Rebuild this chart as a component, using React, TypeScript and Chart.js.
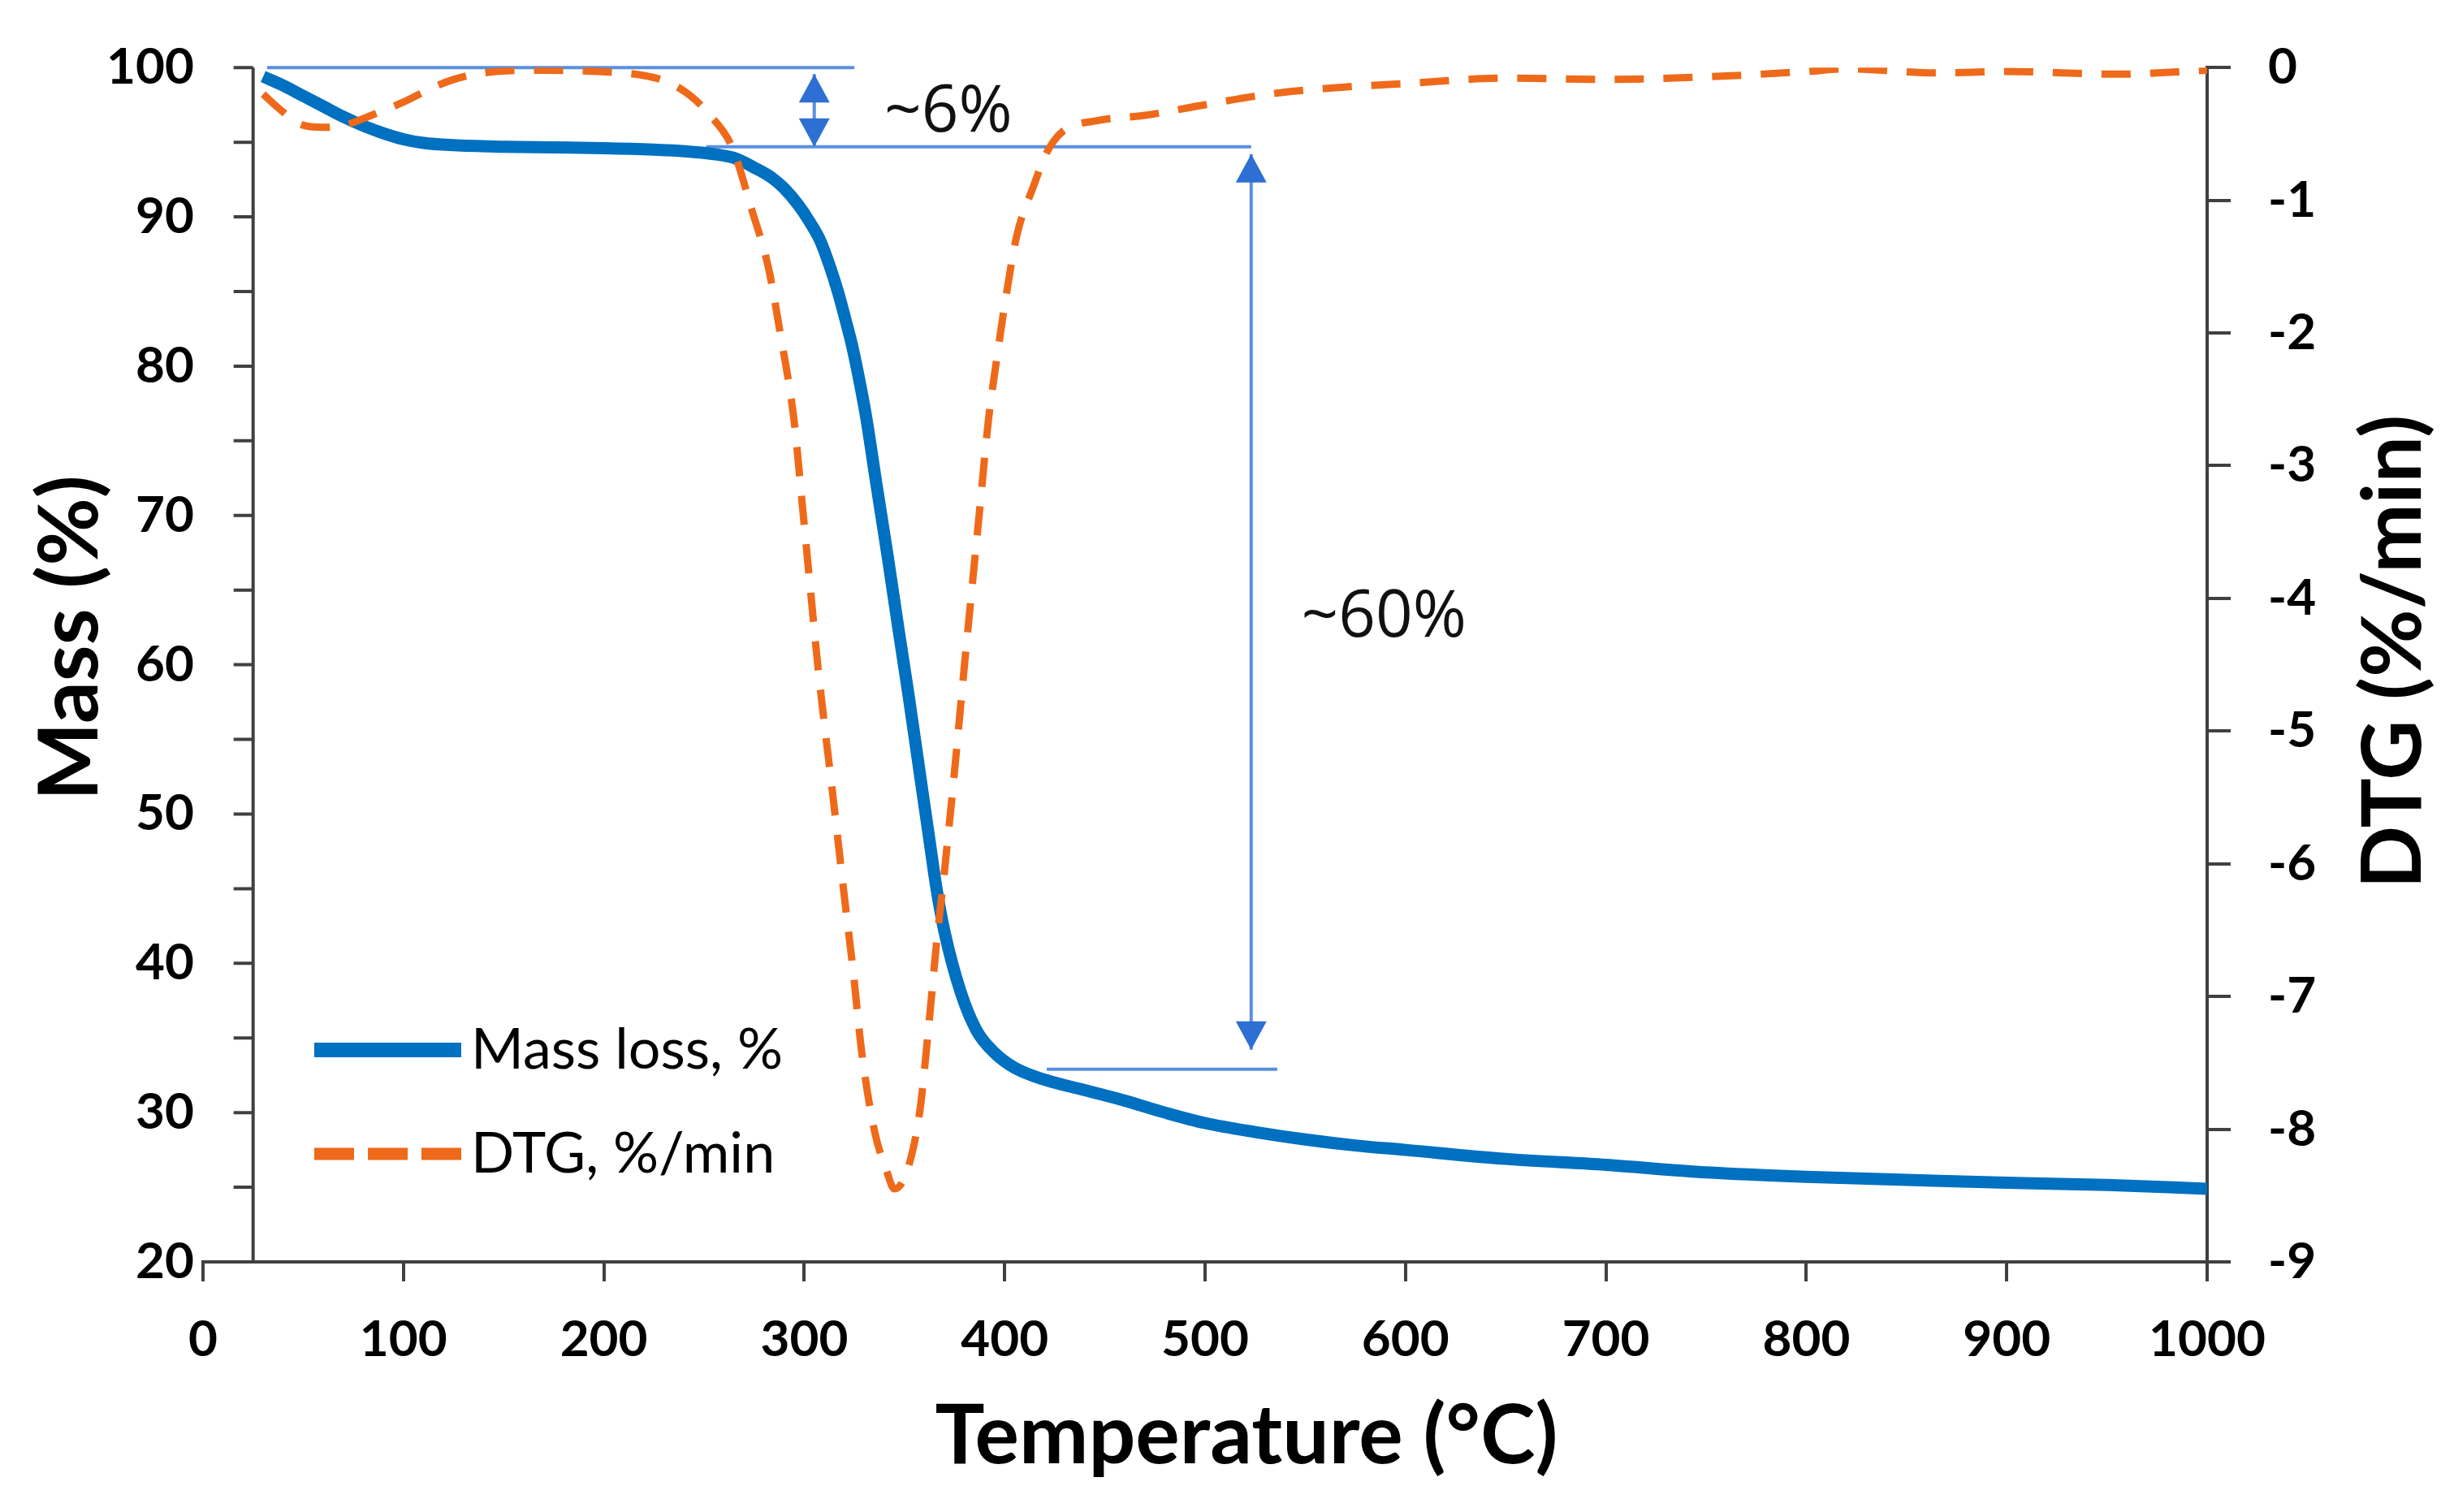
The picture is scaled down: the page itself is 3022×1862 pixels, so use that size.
import { useEffect, useRef } from "react"
import { Chart, registerables } from "chart.js"
import type { Plugin } from "chart.js"

Chart.register(...registerables)

// TGA mass curve: temperature (°C) and remaining mass (%)
const massTemp = [
  30, 40, 50, 60, 70, 80, 90, 100, 110, 125, 150, 175, 200, 225, 240, 255, 266, 275, 284, 290, 297,
  303, 308, 313, 317, 321, 324, 328, 331, 336, 341.7, 347, 352, 358, 362, 366, 370, 378, 386, 395, 405,
  420, 440, 460, 480, 500, 525, 550, 575, 600, 650, 700, 750, 800, 850, 900, 950, 1000,
]
const massValues = [
  99.4, 98.8, 98.1, 97.4, 96.7, 96.1, 95.6, 95.2, 94.95, 94.8, 94.7, 94.65, 94.6, 94.5, 94.4, 94.2, 93.9,
  93.3, 92.6, 91.9, 90.8, 89.6, 88.4, 86.6, 84.9, 82.9, 81.3, 78.7, 76.5, 72.1, 67.2, 62.4, 58.0, 52.4,
  48.7, 45.0, 42.1, 38.1, 35.5, 34.0, 33.0, 32.2, 31.5, 30.8, 30.0, 29.3, 28.7, 28.2, 27.8, 27.5, 26.9,
  26.5, 26.0, 25.7, 25.5, 25.3, 25.15, 24.9,
]

// DTG curve: temperature (°C) and mass loss rate (%/min)
const dtgTemp = [
  30, 38, 49, 60, 69, 84, 100, 112, 125, 140, 169, 197, 220, 232, 243, 253, 264, 274, 282, 288, 295,
  299, 303, 307, 314, 320.5, 324.5, 328.6, 335, 341, 345, 351.4, 357.7, 361.8, 366, 370, 375, 379.7,
  383.7, 387.8, 391.8, 396, 400, 406, 414.5, 421, 429, 446, 470, 500, 532, 567, 600, 650, 700, 750,
  800, 820, 865, 900, 955, 1000,
]
const dtgValues = [
  -0.2, -0.31, -0.43, -0.45, -0.44, -0.36, -0.26, -0.17, -0.09, -0.04, -0.02, -0.03, -0.06, -0.11,
  -0.21, -0.36, -0.6, -1.08, -1.5, -2.0, -2.67, -3.29, -3.92, -4.54, -5.45, -6.31, -6.82, -7.41, -8.01,
  -8.31, -8.45, -8.31, -7.86, -7.27, -6.6, -6.05, -5.3, -4.54, -3.92, -3.29, -2.67, -2.2, -1.79, -1.27,
  -0.89, -0.64, -0.48, -0.4, -0.36, -0.28, -0.2, -0.15, -0.12, -0.08, -0.09, -0.07, -0.03, -0.01, -0.04,
  -0.03, -0.05, -0.02,
]

// axis ranges and titles
const tempRange = [0, 1000]
const massRange = [20, 100]
const dtgRange = [-9, 0]
const massAxisAt = 25 // the mass axis crosses the temperature axis here (°C)
const tempTitle = "Temperature (°C)"
const massTitle = "Mass (%)"
const dtgTitle = "DTG (%/min)"

// reference lines of the two loss steps: from/to (°C) at mass (%)
const stepLines = [
  { from: 32, to: 325, mass: 100 },
  { from: 251, to: 523, mass: 94.7 },
  { from: 421, to: 536, mass: 32.9 },
]
// double arrows between reference lines, with their labels
const stepArrows = [
  { temp: 305, top: 100, bottom: 94.7, gapTop: 8, gapBottom: 0, label: "~6%", labelTemp: 340, labelMass: 95.7 },
  { temp: 523, top: 94.7, bottom: 32.9, gapTop: 9, gapBottom: 24, label: "~60%", labelTemp: 548, labelMass: 61.9 },
]

const BLUE = "#0070C0"
const ORANGE = "#EE6A1A"
const NOTE_LINE = "#5A8FE0"
const NOTE_HEAD = "#2E6FD3"
const AXIS = "#404040"
const TITLE_FONT = "bold 102px Lato"

const massAxisPlugin: Plugin<"line"> = {
  id: "massAxis",
  beforeDatasetsDraw(chart) {
    const { ctx, scales } = chart
    const x = scales.x.getPixelForValue(massAxisAt)
    const y = scales.y
    ctx.save()
    ctx.strokeStyle = AXIS
    ctx.lineWidth = 4
    ctx.beginPath()
    ctx.moveTo(x, y.top)
    ctx.lineTo(x, y.bottom)
    for (let v = massRange[0]; v <= massRange[1]; v += 5) {
      const py = y.getPixelForValue(v)
      ctx.moveTo(x, py)
      ctx.lineTo(x - 24, py)
    }
    ctx.stroke()
    ctx.restore()
  },
}

const triangle = (ctx: CanvasRenderingContext2D, x: number, tipY: number, dir: number) => {
  // dir -1: points up, 1: points down
  const h = 35
  const w = 38
  ctx.beginPath()
  ctx.moveTo(x, tipY)
  ctx.lineTo(x - w / 2, tipY - dir * h)
  ctx.lineTo(x + w / 2, tipY - dir * h)
  ctx.closePath()
  ctx.fill()
}

const stepNotesPlugin: Plugin<"line"> = {
  id: "stepNotes",
  beforeDatasetsDraw(chart) {
    const { ctx, scales } = chart
    const xs = scales.x
    const ys = scales.y
    ctx.save()
    ctx.strokeStyle = NOTE_LINE
    ctx.lineWidth = 4
    stepLines.forEach((l) => {
      const py = ys.getPixelForValue(l.mass)
      ctx.beginPath()
      ctx.moveTo(xs.getPixelForValue(l.from), py)
      ctx.lineTo(xs.getPixelForValue(l.to), py)
      ctx.stroke()
    })
    stepArrows.forEach((a) => {
      const px = xs.getPixelForValue(a.temp)
      const top = ys.getPixelForValue(a.top) + a.gapTop
      const bottom = ys.getPixelForValue(a.bottom) - a.gapBottom
      ctx.strokeStyle = NOTE_LINE
      ctx.lineWidth = 4
      ctx.beginPath()
      ctx.moveTo(px, top)
      ctx.lineTo(px, bottom)
      ctx.stroke()
      ctx.fillStyle = NOTE_HEAD
      triangle(ctx, px, top, -1)
      triangle(ctx, px, bottom, 1)
      ctx.fillStyle = "#111"
      ctx.font = "80px 'Open Sans'"
      ctx.textAlign = "left"
      ctx.textBaseline = "alphabetic"
      ctx.fillText(a.label, xs.getPixelForValue(a.labelTemp), ys.getPixelForValue(a.labelMass))
    })
    ctx.restore()
  },
}

const legendPlugin: Plugin<"line"> = {
  id: "innerLegend",
  afterDatasetsDraw(chart) {
    const { ctx, chartArea } = chart
    const items = [chart.data.datasets[1], chart.data.datasets[0]]
    ctx.save()
    items.forEach((ds: any, i) => {
      const y = chartArea.bottom - 261 + i * 128
      const x0 = chartArea.left + 137
      const x1 = chartArea.left + 318
      ctx.strokeStyle = ds.borderColor
      ctx.lineWidth = i === 0 ? 18 : 15
      ctx.setLineDash(i === 0 ? [] : [49, 17])
      ctx.beginPath()
      ctx.moveTo(x0, y)
      ctx.lineTo(x1, y)
      ctx.stroke()
      ctx.setLineDash([])
      ctx.fillStyle = "#000"
      ctx.font = "70px Lato"
      ctx.textAlign = "left"
      ctx.textBaseline = "middle"
      ctx.fillText(ds.label, x1 + 12, y)
    })
    ctx.restore()
  },
}

// axis titles: drawn by hand so that the right one reads bottom to top like the left one
const axisTitlesPlugin: Plugin<"line"> = {
  id: "axisTitles",
  afterDraw(chart) {
    const { ctx, chartArea } = chart
    const midY = (chartArea.top + chartArea.bottom) / 2
    const midX = (chartArea.left + chartArea.right) / 2
    ctx.save()
    ctx.fillStyle = "#000"
    ctx.font = TITLE_FONT
    ctx.textAlign = "center"
    ctx.textBaseline = "middle"
    ctx.fillText(tempTitle, midX + 51, chart.height - 93)

    ctx.save()
    ctx.translate(87, midY - 33)
    ctx.rotate(-Math.PI / 2)
    ctx.fillText(massTitle, 0, 0)
    ctx.restore()

    ctx.translate(chart.width - 74, midY - 16)
    ctx.rotate(-Math.PI / 2)
    ctx.fillText(dtgTitle, 0, 0)
    ctx.restore()
  },
}

export default function App() {
  const chartRef = useRef<HTMLCanvasElement>(null)
  const chartInstance = useRef<Chart | null>(null)

  useEffect(() => {
    document.body.style.margin = "0"
    if (!chartRef.current) return
    if (chartInstance.current) chartInstance.current.destroy()
    const ctx = chartRef.current.getContext("2d")
    if (!ctx) return

    const tickFont = { family: "Lato", size: 62, weight: "bold" as const }

    chartInstance.current = new Chart(ctx, {
      type: "line",
      data: {
        datasets: [
          {
            label: "DTG, %/min",
            data: dtgTemp.map((t, i) => ({ x: t, y: dtgValues[i] })),
            yAxisID: "y2",
            borderColor: ORANGE,
            borderWidth: 9,
            borderDash: [36, 24],
            pointRadius: 0,
            cubicInterpolationMode: "monotone",
            fill: false,
            order: 1,
          },
          {
            label: "Mass loss, %",
            data: massTemp.map((t, i) => ({ x: t, y: massValues[i] })),
            yAxisID: "y",
            borderColor: BLUE,
            borderWidth: 15,
            pointRadius: 0,
            cubicInterpolationMode: "monotone",
            fill: false,
            order: 2,
          },
        ],
      },
      options: {
        responsive: true,
        maintainAspectRatio: false,
        animation: false,
        layout: { padding: { top: 83, left: 0, right: 0, bottom: 0 } },
        plugins: {
          legend: { display: false },
          tooltip: { enabled: false },
        },
        scales: {
          x: {
            type: "linear",
            min: tempRange[0],
            max: tempRange[1],
            ticks: {
              stepSize: 100,
              font: tickFont,
              color: "#000",
              padding: 35,
              maxRotation: 0,
              callback: (v) => String(v),
            },
            grid: { drawOnChartArea: false, drawTicks: true, tickLength: 24, color: AXIS, lineWidth: 4 },
            border: { display: true, color: AXIS, width: 4 },
            title: { display: false },
            afterFit: (scale) => {
              scale.height = 308
            },
          },
          y: {
            type: "linear",
            position: "left",
            min: massRange[0],
            max: massRange[1],
            ticks: { stepSize: 10, font: tickFont, color: "#000", padding: 11 },
            grid: { display: false, drawTicks: false },
            border: { display: false },
            title: { display: false },
            afterFit: (scale) => {
              scale.width = 250
            },
          },
          y2: {
            type: "linear",
            position: "right",
            min: dtgRange[0],
            max: dtgRange[1],
            ticks: { stepSize: 1, font: tickFont, color: "#000", padding: 46, callback: (v) => String(v) },
            grid: { drawOnChartArea: false, drawTicks: true, tickLength: 29, color: AXIS, lineWidth: 4 },
            border: { display: true, color: AXIS, width: 4 },
            title: { display: false },
            afterFit: (scale) => {
              scale.width = 304
            },
          },
        },
      },
      plugins: [massAxisPlugin, stepNotesPlugin, legendPlugin, axisTitlesPlugin],
    })

    return () => {
      if (chartInstance.current) {
        chartInstance.current.destroy()
        chartInstance.current = null
      }
    }
  }, [])

  return (
    <div style={{ width: "3022px", height: "1862px", position: "relative", background: "#fff" }}>
      <canvas ref={chartRef} />
    </div>
  )
}
